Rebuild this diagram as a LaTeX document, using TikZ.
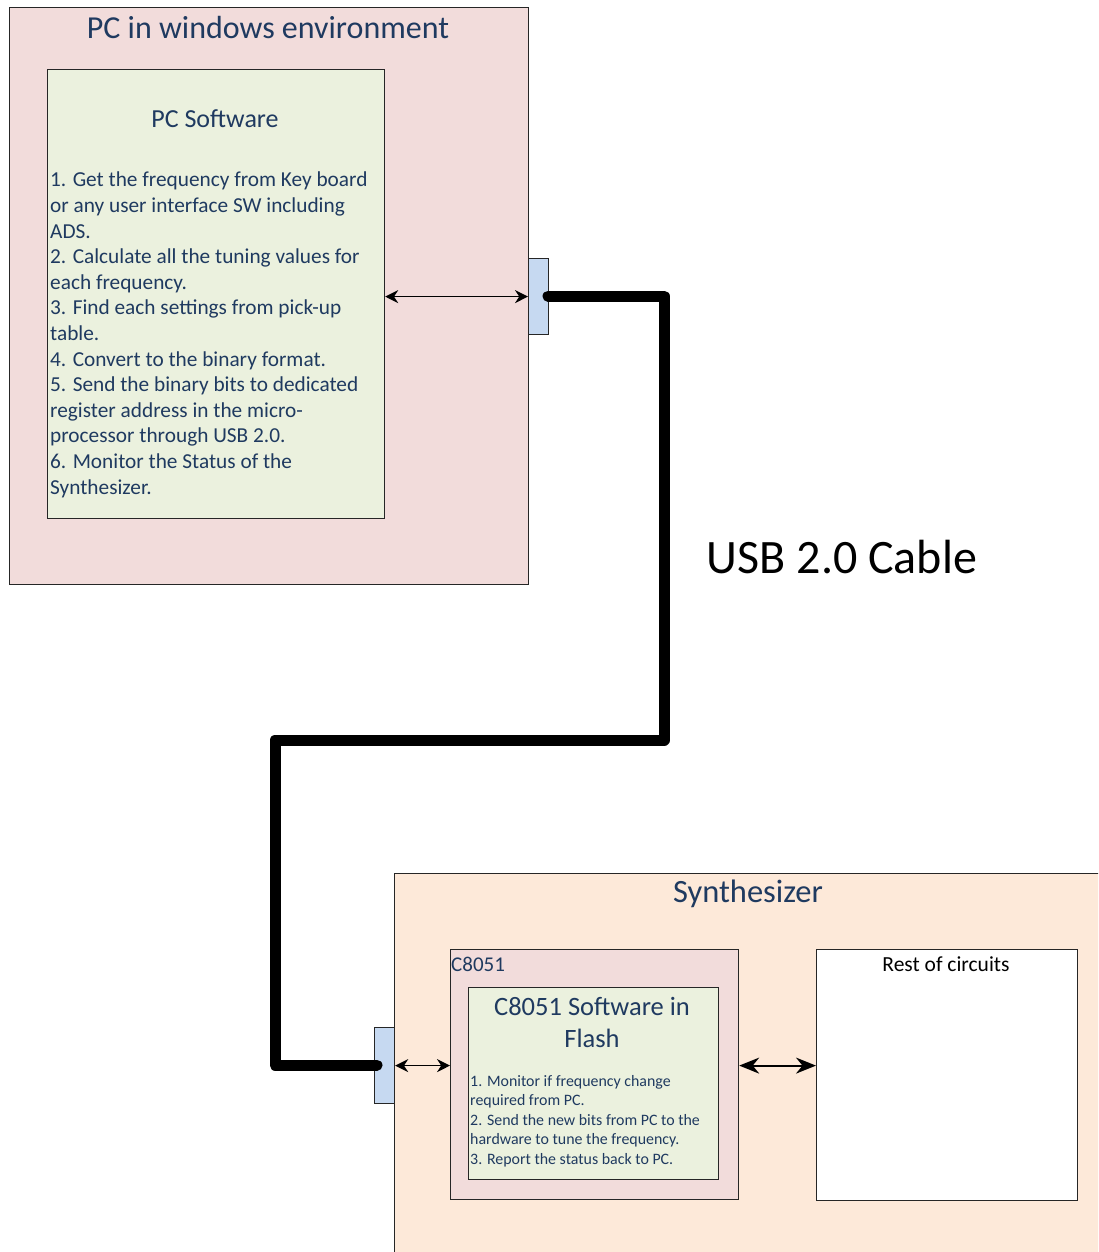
\documentclass[tikz,border=0pt]{standalone}
\usepackage{fontspec}
\setmainfont{Carlito}
\usetikzlibrary{arrows.meta}
\definecolor{txtblue}{HTML}{1F3A60}
\definecolor{pcpink}{HTML}{F2DCDB}
\definecolor{swgreen}{HTML}{EBF1DE}
\definecolor{portblue}{HTML}{C6D9F1}
\definecolor{synthpeach}{HTML}{FDE9D9}
\tikzset{
  box/.style={draw=black!85, line width=1.2pt, rectangle, inner sep=0pt, anchor=north west},
  portbox/.style={box, fill=portblue, minimum width=20pt, minimum height=76pt},
  cable/.style={line width=11pt, line cap=round, line join=round},
  dbl/.style={line width=1.6pt, {Stealth[length=13pt,width=13pt]}-{Stealth[length=13pt,width=13pt]}},
  dblbig/.style={line width=1.8pt, {Stealth[length=20pt,width=16pt]}-{Stealth[length=20pt,width=16pt]}},
  lbl/.style={inner sep=0pt, text=txtblue},
}
\begin{document}
\begin{tikzpicture}[x=1pt,y=-1pt]
\useasboundingbox (0,0) rectangle (1098,1252);
\clip (0,0) rectangle (1098,1252);
\fill[white] (0,0) rectangle (1098,1252);
% PC environment
\node[box, fill=pcpink, minimum width=519pt, minimum height=577pt] (pc) at (9,7) {};
\node[lbl, font=\fontsize{32}{36}\selectfont] (pctitle) at (268,28) {PC in windows environment};
\node[box, fill=swgreen, minimum width=337pt, minimum height=449pt] (pcsw) at (47,69) {};
\node[lbl, font=\fontsize{26}{30}\selectfont] (pcswtitle) at (215,119) {PC Software};
\node[lbl, anchor=north west, align=left, font=\fontsize{21.3}{25.6}\selectfont] (pclist) at (50,172) {1. Get the frequency from Key board\\or any user interface SW including\\ADS.\\2. Calculate all the tuning values for\\each frequency.\\3. Find each settings from pick-up\\table.\\4. Convert to the binary format.\\5. Send the binary bits to dedicated\\register address in the micro-\\processor through USB 2.0.\\6. Monitor the Status of the\\Synthesizer.};
\node[portbox] (port1) at (528,258) {};
% Synthesizer
\node[box, fill=synthpeach, minimum width=720pt, minimum height=400pt] (synth) at (394,873) {};
\node[lbl, font=\fontsize{32.5}{36}\selectfont] (synthtitle) at (748,894) {Synthesizer};
\node[portbox] (port2) at (374,1027) {};
\node[box, fill=pcpink, minimum width=288pt, minimum height=250pt] (c8051) at (450,949) {};
\node[lbl, anchor=west, font=\fontsize{21}{24}\selectfont] (c8051lbl) at (451,964) {C8051};
\node[box, fill=swgreen, minimum width=250pt, minimum height=192pt] (c8sw) at (468,987) {};
\node[lbl, align=center, font=\fontsize{26.5}{32}\selectfont] (c8swtitle) at (592,1022) {C8051 Software in\\Flash};
\node[lbl, anchor=north west, align=left, font=\fontsize{15.9}{19.5}\selectfont] (c8list) at (470,1075) {1. Monitor if frequency change\\required from PC.\\2. Send the new bits from PC to the\\hardware to tune the frequency.\\3. Report the status back to PC.};
\node[box, fill=white, minimum width=261pt, minimum height=251pt] (rest) at (816,949) {};
\node[inner sep=0pt, text=black, font=\fontsize{21.5}{24}\selectfont] (restlbl) at (946,964) {Rest of circuits};
% USB cable label
\node[inner sep=0pt, text=black, font=\fontsize{48}{54}\selectfont] (usblbl) at (842,557) {USB 2.0 Cable};
% connectors
\coordinate (c1) at (664,296);
\coordinate (c2) at (664,740);
\coordinate (c3) at (275,740);
\coordinate (c4) at (275,1065);
\coordinate (p1) at (548,296);
\coordinate (p2) at (377,1065);
\draw[cable] (p1) -- (c1) -- (c2) -- (c3) -- (c4) -- (p2);
\draw[dbl] (pcsw.east |- port1.west) -- (port1.west);
\draw[dbl] (port2.east) -- (c8051.west |- port2.east);
\draw[dblbig] (c8051.east |- port2.east) -- (rest.west |- port2.east);
\end{tikzpicture}
\end{document}
